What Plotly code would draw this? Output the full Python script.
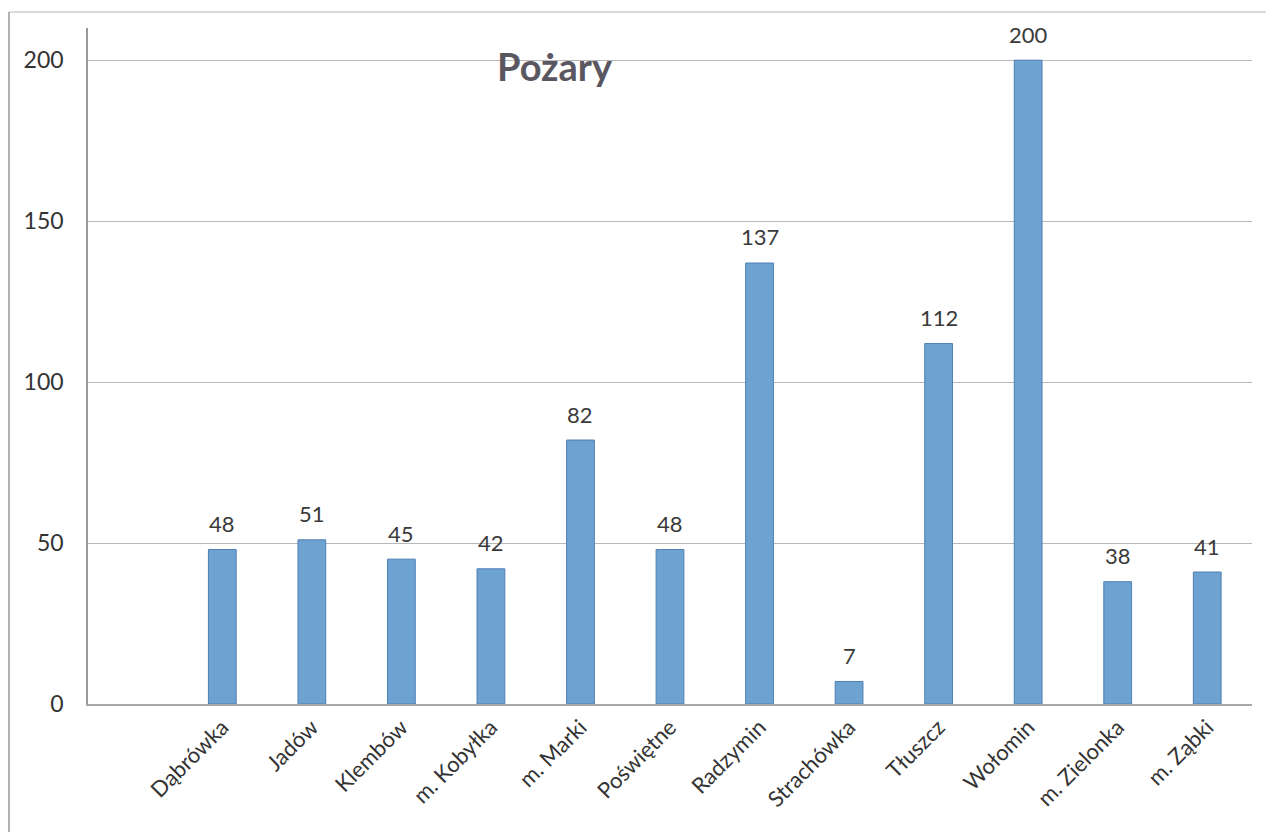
import plotly.graph_objects as go

categories = ["", "Dąbrówka", "Jadów", "Klembów", "m. Kobyłka", "m. Marki", "Poświętne",
              "Radzymin", "Strachówka", "Tłuszcz", "Wołomin", "m. Zielonka", "m. Ząbki"]
values = [None, 48, 51, 45, 42, 82, 48, 137, 7, 112, 200, 38, 41]
y_ticks = [0, 50, 100, 150, 200]
title_text = "Pożary"

FONT = "Lato, 'Open Sans', sans-serif"

W, H = 1266, 824
ML, MR, MT, MB = 80, 22, 20, 128
PW, PH = W - ML - MR, H - MT - MB

fig = go.Figure()
fig.add_trace(go.Bar(
    x=categories, y=values,
    width=0.31,
    marker=dict(color="#6ea2d0", line=dict(color="#4f7fb5", width=1)),
    hoverinfo="x+y",
))

annotations = [dict(
    text="<b>" + title_text + "</b>", xref="paper", yref="paper",
    x=(547 - ML) / PW, y=1 - (58 - MT) / PH, xanchor="center", yanchor="middle",
    showarrow=False,
    font=dict(size=38, color="#5b5760", family=FONT),
)]
for c, v in zip(categories, values):
    if v is None:
        continue
    annotations.append(dict(
        x=c, y=v, xref="x", yref="y", text=str(v), showarrow=False,
        xanchor="center", yanchor="middle", yshift=26,
        font=dict(size=22, color="#3a3a3a", family=FONT),
    ))

fig.update_layout(
    width=W, height=H,
    margin=dict(l=ML, r=MR, t=MT, b=MB),
    paper_bgcolor="white", plot_bgcolor="white",
    showlegend=False,
    font=dict(family=FONT, color="#333333"),
    annotations=annotations,
    shapes=[
        dict(type="line", xref="paper", yref="paper",
             x0=(1 - ML) / PW, x1=(1 - ML) / PW, y0=-MB / PH - 0.05, y1=1 + (MT - 4) / PH,
             line=dict(color="#9a9a9a", width=1.5)),
        dict(type="line", xref="paper", yref="paper",
             x0=(1 - ML) / PW, x1=1 + MR / PH, y0=1 + (MT - 4) / PH, y1=1 + (MT - 4) / PH,
             line=dict(color="#b5b5b5", width=1)),
    ],
)

fig.update_xaxes(
    type="category", categoryorder="array", categoryarray=categories,
    tickangle=-45, tickfont=dict(size=22, color="#333333", family=FONT),
    showline=True, linecolor="#a8a8a8", linewidth=1.5,
    ticks="", showgrid=False, range=[-0.5, len(categories) - 0.5],
    automargin=False,
)
fig.update_yaxes(
    range=[0, 210], tickvals=y_ticks, ticktext=[str(t) for t in y_ticks],
    tickfont=dict(size=23, color="#333333", family=FONT),
    showgrid=True, gridcolor="#b8b8b8", gridwidth=1,
    showline=True, linecolor="#9a9a9a", linewidth=1.5,
    zeroline=False, ticks="", ticklabelstandoff=18,
    automargin=False,
)

fig.write_html("out.html")
